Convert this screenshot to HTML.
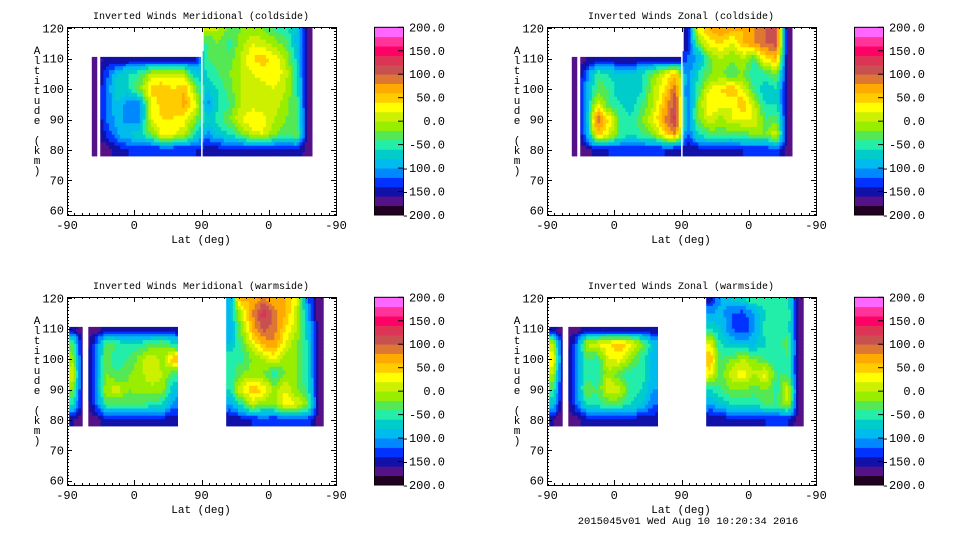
<!DOCTYPE html>
<html><head><meta charset="utf-8"><style>
body{margin:0;background:#fff;width:960px;height:540px;overflow:hidden}
svg text{font-family:"Liberation Mono",monospace;fill:#000}
</style></head><body>
<svg id="s" width="960" height="540" xmlns="http://www.w3.org/2000/svg"></svg>
<script>
const n=null;
// altitude rows (km), top to bottom
const altRows=[120,115,110,105,100,95,90,85,80];
// 24 latitude columns across the two hemisphere halves (-90..90..-90), 15 deg each
const bandColors=["#220022","#551188","#1111aa","#0033ff","#0088ff","#00bbee","#00cccc","#22eeaa","#55e855","#99ee00","#ccf000","#ffff00","#ffcc00","#ffaa00","#dd7733","#c85050","#dd3355","#ff0066","#ff3399","#ff66ff"];
const cbTicks=[200,150,100,50,0,-50,-100,-150,-200];
const xTickLabels=["-90","0","90","0","-90"];
const yTicks=[60,70,80,90,100,110,120];
const titles=["Inverted Winds Meridional (coldside)","Inverted Winds Zonal (coldside)","Inverted Winds Meridional (warmside)","Inverted Winds Zonal (warmside)"];
const merCold=[
[n,n,n,n,n,n,n,n,n,n,n,n,0,0,-30,-20,-20,-20,-40,-50,-80,-170,n,n],
[n,n,n,n,n,n,n,n,n,n,n,n,-40,-20,-50,-10,20,10,-10,-30,-90,-170,n,n],
[n,n,-180,-150,-160,-150,-150,-150,-150,-150,-150,-150,-40,-30,-30,0,40,50,30,0,-70,-170,n,n],
[n,n,-180,-130,-80,-60,-40,0,10,10,0,-80,-60,-40,-20,0,20,30,40,10,-60,-170,n,n],
[n,n,-170,-120,-60,-60,-20,50,60,40,60,-20,-80,-60,-30,0,0,10,20,0,-50,-170,n,n],
[n,n,-170,-120,-80,-120,-110,20,50,40,70,20,-110,-60,-40,0,10,0,10,-10,-40,-170,n,n],
[n,n,-170,-120,-90,-110,-110,20,40,40,30,-20,-70,-50,-20,20,40,30,0,-20,-30,-170,n,n],
[n,n,-170,-140,-100,-80,-60,-30,30,20,0,-60,-110,-80,-60,-30,10,20,-20,-40,-20,-170,n,n],
[n,n,-180,-170,-150,-140,-140,-140,-140,-140,-140,-140,-150,-150,-140,-150,-150,-140,-150,-150,-140,-170,n,n]];
const zonCold=[
[n,n,n,n,n,n,n,n,n,n,n,n,-150,20,60,80,60,60,80,100,110,-170,n,n],
[n,n,n,n,n,n,n,n,n,n,n,n,-150,-20,30,40,20,60,80,100,110,-170,n,n],
[n,n,-180,-160,-150,-150,-150,-150,-150,-150,-150,-150,-120,-100,-30,0,-20,0,-40,40,60,-170,n,n],
[n,n,-180,-120,-40,-60,-80,-80,-60,-20,20,60,-120,-60,-20,-20,-40,-20,-60,-40,-20,-170,n,n],
[n,n,-180,-100,-30,-40,-80,-80,-60,0,40,100,-130,-40,20,40,60,20,-40,-80,-60,-170,n,n],
[n,n,-180,-100,20,-40,-60,-70,-40,0,60,120,-130,-20,40,30,20,60,0,-60,-60,-170,n,n],
[n,n,-180,-100,100,40,-40,-60,-20,20,80,130,-120,-20,20,-10,20,20,20,-40,-30,-170,n,n],
[n,n,-180,-110,60,20,-40,-60,-40,-20,40,80,-130,-60,-40,-30,-40,-30,-20,-20,20,-170,n,n],
[n,n,-180,-170,-150,-140,-140,-140,-140,-140,-140,-150,-160,-150,-140,-150,-150,-140,-140,-140,-130,-170,n,n]];
const merWarm=[
[n,n,n,n,n,n,n,n,n,n,n,n,n,n,-100,60,60,90,60,60,20,-120,-170,n],
[n,n,n,n,n,n,n,n,n,n,n,n,n,n,-80,0,80,130,90,60,10,-100,-170,n],
[-150,-180,-170,-150,-150,-150,-150,-150,-150,-150,n,n,n,n,-100,-20,60,110,90,40,0,-80,-170,n],
[-40,-180,-130,-30,-40,-60,-50,-40,-20,-60,n,n,n,n,-80,-40,20,60,80,20,-20,-60,-170,n],
[-10,-180,-120,-20,-60,-40,-10,20,-10,60,n,n,n,n,-40,-50,-20,0,20,-10,-20,-60,-170,n],
[20,-180,-120,-20,-40,-20,-10,20,0,-40,n,n,n,n,-60,-20,-10,-20,-60,-20,-20,-60,-170,n],
[-20,-180,-120,0,10,-20,-10,-10,-10,-80,n,n,n,n,-60,20,60,40,-10,20,-20,-50,-170,n],
[-60,-180,-130,-40,-40,-40,-40,-50,-60,-110,n,n,n,n,-100,-60,0,-20,-20,40,20,-20,-170,n],
[-160,-180,-170,-150,-150,-150,-150,-140,-150,-150,n,n,n,n,-160,-150,-140,-130,-140,-130,-130,-130,-170,n]];
const zonWarm=[
[n,n,n,n,n,n,n,n,n,n,n,n,n,n,-150,-100,-80,-70,-40,-50,-40,-60,-170,n],
[n,n,n,n,n,n,n,n,n,n,n,n,n,n,-100,-90,-120,-130,-100,-60,-40,-40,-170,n],
[-150,-180,-170,-150,-150,-150,-150,-150,-150,-150,n,n,n,n,-60,-80,-120,-140,-100,-50,-40,-50,-170,n],
[0,-180,-130,0,20,40,60,30,-20,-80,n,n,n,n,20,-60,-80,-90,-90,-60,-50,-30,-170,n],
[40,-180,-120,-40,-50,20,30,-10,-50,-90,n,n,n,n,60,-40,-20,0,-20,-40,-60,-40,-170,n],
[0,-180,-120,-50,-60,0,-40,-60,-50,-90,n,n,n,n,30,-40,20,30,0,30,-40,-40,-170,n],
[-40,-180,-120,-20,-40,20,10,-50,-60,-100,n,n,n,n,-60,-40,-20,-20,-30,-20,-50,20,-170,n],
[-80,-180,-130,-60,-50,-40,-40,-60,-80,-120,n,n,n,n,-100,-80,-60,-60,-60,-40,-40,0,-170,n],
[-160,-180,-170,-150,-150,-150,-150,-150,-150,-150,n,n,n,n,-160,-150,-150,-140,-150,-140,-140,-140,-170,n]];
const panelData=[merCold,zonCold,merWarm,zonWarm];
const panelNames=["meridional-coldside","zonal-coldside","meridional-warmside","zonal-warmside"];
// data-coverage gaps (lat-track position ranges with no retrievals)
const coldGaps=[[26,33],[40.5,44.5],[179.5,181.5]];
const warmGaps=[[21,28.5]];
const panelGaps=[coldGaps,coldGaps,warmGaps,warmGaps];

const NS="http://www.w3.org/2000/svg",S=document.getElementById('s');
function mk(t,a,p){const e=document.createElementNS(NS,t);for(const k in a)e.setAttribute(k,a[k]);(p||S).appendChild(e);return e;}
const X0=67,W=269,Y0=27,H=188;
function colorOf(v){let b=Math.floor((v+200)/20);b=Math.max(0,Math.min(19,b));return bandColors[b];}
const offs=[[0,0],[480,0],[0,270],[480,270]];
const SUB=4;
panelData.forEach((data,pi)=>{
  const ox=offs[pi][0],oy=offs[pi][1];
  const xp=p=>ox+X0+p/360*W;
  const ya=a=>oy+28.3+(120-a)*3.04;
  const get=(r,c)=>(r<0||r>=data.length||c<0||c>=24)?null:data[r][c];
  const g=mk('g',{});
  
  
  const cid='clip'+pi;
  const cp=mk('clipPath',{id:cid},g);mk('rect',{x:ox+X0,y:oy+Y0,width:W,height:H},cp);
  const cg=mk('g',{'clip-path':'url(#'+cid+')'},g);
  data.forEach((row,ri)=>{row.forEach((v,ci)=>{
    if(v===null)return;
    const a=altRows[ri];
    const up=get(ri-1,ci),dn=get(ri+1,ci),lf=get(ri,ci-1),rt=get(ri,ci+1);
    let pTop=a+2.5,pBot=a-2.5,p1=ci*15,p2=ci*15+15;
    if(up===null)pTop=a+0.6;
    if(dn===null)pBot=a-2;
    if(lf===null)p1=ci*15+3;
    if(rt===null)p2=ci*15+13;
    const cell=mk('g',{},cg);
    
    
    for(let i=0;i<SUB;i++)for(let j=0;j<SUB;j++){
      const u=(i+0.5)/SUB-0.5, w=(j+0.5)/SUB-0.5;
      const dc=u<0?-1:1, dr=w<0?-1:1;
      let vx=get(ri,ci+dc); if(vx===null)vx=v;
      let vy=get(ri+dr,ci); if(vy===null)vy=v;
      let vxy=get(ri+dr,ci+dc); if(vxy===null)vxy=(vx+vy)/2;
      const fu=Math.abs(u),fw=Math.abs(w);
      const val=v*(1-fu)*(1-fw)+vx*fu*(1-fw)+vy*(1-fu)*fw+vxy*fu*fw;
      const sx1=xp(p1+(p2-p1)*i/SUB),sx2=xp(p1+(p2-p1)*(i+1)/SUB);
      const sy1=ya(pTop-(pTop-pBot)*j/SUB),sy2=ya(pTop-(pTop-pBot)*(j+1)/SUB);
      mk('rect',{x:sx1.toFixed(1),y:sy1.toFixed(1),width:(sx2-sx1+0.4).toFixed(1),height:(sy2-sy1+0.4).toFixed(1),fill:colorOf(val)},cell);
    }
  });});
  panelGaps[pi].forEach(gp=>{
    const r=mk('rect',{x:xp(gp[0]),y:oy+Y0,width:xp(gp[1])-xp(gp[0]),height:H,fill:'#fff'},cg);
    
    
  });
  const fr=mk('rect',{x:ox+X0+0.5,y:oy+Y0+0.5,width:W,height:H,fill:'none',stroke:'#000','stroke-width':1},g);
  
  
  for(let p=0;p<=360;p+=10){const x=Math.round(xp(p))+0.5;const L=(p%90===0)?5:2;
    mk('line',{x1:x,x2:x,y1:oy+Y0+H,y2:oy+Y0+H-L,stroke:'#000'},g);mk('line',{x1:x,x2:x,y1:oy+Y0,y2:oy+Y0+L,stroke:'#000'},g);}
  xTickLabels.forEach((t,i)=>{const tx=mk('text',{x:xp(i*90),y:oy+229,'font-size':12,'text-anchor':'middle'},g);tx.textContent=t;
    
    });
  for(let a=59;a<=120;a++){const y=Math.round(ya(a))+0.5;const L=(a%10===0)?5:2;
    mk('line',{x1:ox+X0,x2:ox+X0+L,y1:y,y2:y,stroke:'#000'},g);mk('line',{x1:ox+X0+W,x2:ox+X0+W-L,y1:y,y2:y,stroke:'#000'},g);}
  yTicks.forEach(a=>{const tx=mk('text',{x:ox+64,y:ya(a)+4,'font-size':12,'text-anchor':'end'},g);tx.textContent=a;
    
    });
  const tt=mk('text',{x:ox+201,y:oy+19,'font-size':10,'text-anchor':'middle'},g);tt.textContent=titles[pi];
  
  
  const xl=mk('text',{x:ox+201,y:oy+243,'font-size':11,'text-anchor':'middle'},g);xl.textContent='Lat (deg)';
  
  
  const yt="Altitude (km)";const yg=mk('g',{},g);
  
  
  [...yt].forEach((c,i)=>{const t=mk('text',{x:ox+37,y:oy+54+i*10,'font-size':11,'text-anchor':'middle'},yg);t.textContent=c;});
  const cb=mk('g',{},g);
  
  
  const bx=ox+374,bw=29,by=oy+27.3,bh=187.7;
  const yv=v=>by+(200-v)/400*bh;
  bandColors.forEach((c,i)=>{const lo=-200+i*20;mk('rect',{x:bx,y:yv(lo+20).toFixed(1),width:bw,height:(bh/20+0.4).toFixed(1),fill:c},cb);});
  mk('rect',{x:bx+0.5,y:by,width:bw,height:bh,fill:'none',stroke:'#000'},cb);
  cbTicks.forEach(v=>{const y=yv(v);mk('line',{x1:bx+bw-5,x2:bx+bw,y1:y,y2:y,stroke:'#000'},cb);
    const t=mk('text',{x:ox+445,y:y+4,'font-size':12,'text-anchor':'end'},cb);t.textContent=v.toFixed(1);});
});
const ft=mk('text',{x:688,y:524,'font-size':10.5,'text-anchor':'middle'});ft.textContent='2015045v01 Wed Aug 10 10:20:34 2016';


</script>
</body></html>
